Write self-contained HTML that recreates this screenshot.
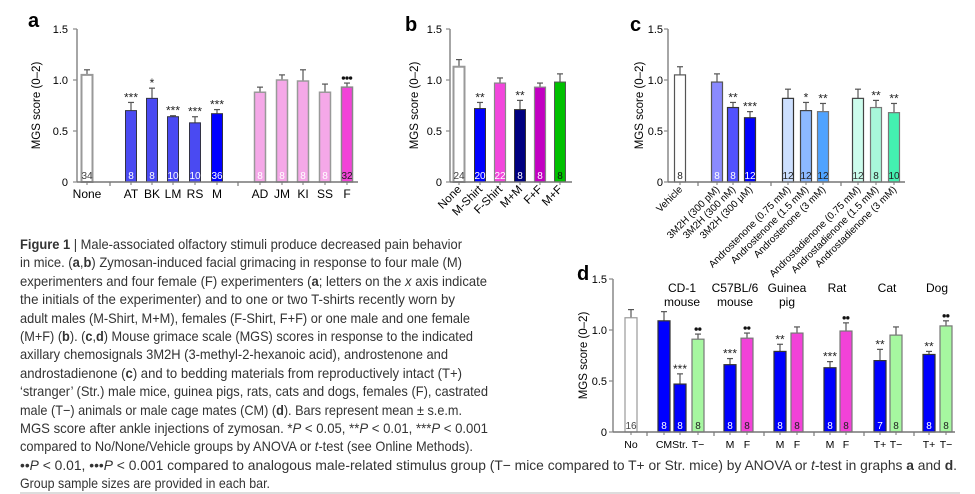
<!DOCTYPE html>
<html><head><meta charset="utf-8">
<style>
body{margin:0;background:#fff;width:975px;height:494px;overflow:hidden}
svg{position:absolute;left:0;top:0}
text{font-family:"Liberation Sans",sans-serif}
.cap{font-family:"Liberation Sans Narrow","Liberation Sans",sans-serif;font-size:14px;fill:#333}
</style></head>
<body>
<svg id="fig" width="975" height="494" viewBox="0 0 975 494">
<g class="cap">
<text x="20" y="249" textLength="442" lengthAdjust="spacingAndGlyphs"><tspan font-weight="bold">Figure 1</tspan> | Male-associated olfactory stimuli produce decreased pain behavior</text>
<text x="20" y="267" textLength="442" lengthAdjust="spacingAndGlyphs">in mice. (<tspan font-weight="bold">a</tspan>,<tspan font-weight="bold">b</tspan>) Zymosan-induced facial grimacing in response to four male (M)</text>
<text x="20" y="286" textLength="467" lengthAdjust="spacingAndGlyphs">experimenters and four female (F) experimenters (<tspan font-weight="bold">a</tspan>; letters on the <tspan font-style="italic">x</tspan> axis indicate</text>
<text x="20" y="304" textLength="435" lengthAdjust="spacingAndGlyphs">the initials of the experimenter) and to one or two T-shirts recently worn by</text>
<text x="20" y="323" textLength="450" lengthAdjust="spacingAndGlyphs">adult males (M-Shirt, M+M), females (F-Shirt, F+F) or one male and one female</text>
<text x="20" y="341" textLength="453" lengthAdjust="spacingAndGlyphs">(M+F) (<tspan font-weight="bold">b</tspan>). (<tspan font-weight="bold">c</tspan>,<tspan font-weight="bold">d</tspan>) Mouse grimace scale (MGS) scores in response to the indicated</text>
<text x="20" y="359" textLength="428" lengthAdjust="spacingAndGlyphs">axillary chemosignals 3M2H (3-methyl-2-hexanoic acid), androstenone and</text>
<text x="20" y="378" textLength="442" lengthAdjust="spacingAndGlyphs">androstadienone (<tspan font-weight="bold">c</tspan>) and to bedding materials from reproductively intact (T+)</text>
<text x="20" y="396" textLength="468" lengthAdjust="spacingAndGlyphs">‘stranger’ (Str.) male mice, guinea pigs, rats, cats and dogs, females (F), castrated</text>
<text x="20" y="415" textLength="442" lengthAdjust="spacingAndGlyphs">male (T−) animals or male cage mates (CM) (<tspan font-weight="bold">d</tspan>). Bars represent mean ± s.e.m.</text>
<text x="20" y="433" textLength="468" lengthAdjust="spacingAndGlyphs">MGS score after ankle injections of zymosan. *<tspan font-style="italic">P</tspan> &lt; 0.05, **<tspan font-style="italic">P</tspan> &lt; 0.01, ***<tspan font-style="italic">P</tspan> &lt; 0.001</text>
<text x="20" y="451" textLength="453" lengthAdjust="spacingAndGlyphs">compared to No/None/Vehicle groups by ANOVA or <tspan font-style="italic">t</tspan>-test (see Online Methods).</text>
<text x="20" y="470" textLength="937" lengthAdjust="spacingAndGlyphs">••<tspan font-style="italic">P</tspan> &lt; 0.01, •••<tspan font-style="italic">P</tspan> &lt; 0.001 compared to analogous male-related stimulus group (T− mice compared to T+ or Str. mice) by ANOVA or <tspan font-style="italic">t</tspan>-test in graphs <tspan font-weight="bold">a</tspan> and <tspan font-weight="bold">d</tspan>.</text>
<text x="20" y="488" textLength="250" lengthAdjust="spacingAndGlyphs">Group sample sizes are provided in each bar.</text>
</g>
<line x1="20" y1="493" x2="960" y2="493" stroke="#bbb" stroke-width="1"/>
</svg>
<script>
// ---- Panel a data ----
const aCats = ["None","AT","BK","LM","RS","M","AD","JM","KI","SS","F"];
const aVals = [1.05,0.70,0.82,0.64,0.58,0.67,0.88,1.00,0.99,0.88,0.93];
const aErr  = [0.05,0.08,0.10,0.01,0.06,0.04,0.05,0.05,0.11,0.08,0.04];
const aN    = ["34","8","8","10","10","36","8","8","8","8","32"];
const aSig  = ["","***","*","***","***","***","","","","","•••"];
// ---- Panel b data ----
const bCats = ["None","M-Shirt","F-Shirt","M+M","F+F","M+F"];
const bVals = [1.13,0.72,0.97,0.71,0.93,0.98];
const bErr  = [0.07,0.06,0.05,0.09,0.04,0.08];
const bN    = ["24","20","22","8","8","8"];
const bSig  = ["","**","","**","",""];
// ---- Panel c data ----
const cCats = ["Vehicle","3M2H (300 pM)","3M2H (300 nM)","3M2H (300 μM)","Androstenone (0.75 mM)","Androstenone (1.5 mM)","Androstenone (3 mM)","Androstadienone (0.75 mM)","Androstadienone (1.5 mM)","Androstadienone (3 mM)"];
const cVals = [1.05,0.98,0.73,0.63,0.82,0.70,0.69,0.82,0.73,0.68];
const cErr  = [0.08,0.08,0.05,0.06,0.09,0.08,0.08,0.09,0.07,0.09];
const cN    = ["8","8","8","12","12","12","12","12","8","10"];
const cSig  = ["","","**","***","","*","**","","**","**"];
// ---- Panel d data ----
const dCats = ["No","CM","Str.","T−","M","F","M","F","M","F","T+","T−","T+","T−"];
const dVals = [1.12,1.09,0.47,0.91,0.66,0.92,0.79,0.97,0.63,0.99,0.70,0.95,0.76,1.04];
const dErr  = [0.08,0.09,0.10,0.05,0.06,0.05,0.07,0.06,0.06,0.08,0.11,0.08,0.03,0.05];
const dN    = ["16","8","8","8","8","8","8","8","8","8","7","8","8","8"];
const dSig  = ["","","***","••","***","••","**","","***","••","**","","**","••"];
const dGroups = [["CD-1","mouse"],["C57BL/6","mouse"],["Guinea","pig"],["Rat"],["Cat"],["Dog"]];
const yTicks = [0,0.5,1.0,1.5];
const yTickLabels = ["0","0.5","1.0","1.5"];

const NS="http://www.w3.org/2000/svg";
const svg=document.getElementById('fig');
function mk(tag,attrs,parent){const e=document.createElementNS(NS,tag);for(const k in attrs)e.setAttribute(k,attrs[k]);(parent||svg).appendChild(e);return e;}

function panel(P,cats,vals,errs,ns,sigs){
  const g=mk('g',{});
  
  
  const y=v=>P.y0-v*P.k;
  const lt=mk('text',{x:P.letterX,y:P.letterY,'font-size':20,'font-weight':'bold',fill:'#000'},g);
  lt.textContent=P.letter;
  
  
  cats.forEach((c,i)=>{
    const cx=P.xs[i],w=P.bw,top=y(vals[i]),et=y(vals[i]+errs[i]);
    const eb=mk('line',{x1:cx,x2:cx,y1:top,y2:et,stroke:'#555','stroke-width':1.2},g);
    
    
    mk('line',{x1:cx-3,x2:cx+3,y1:et,y2:et,stroke:'#555','stroke-width':1.2},g);
    const r=mk('rect',{x:cx-w/2,y:top,width:w,height:P.y0-top,fill:P.colors[i],stroke:P.strokes[i],'stroke-width':P.sw[i]},g);
    
    
    const nt=mk('text',{x:cx,y:P.y0-3,'text-anchor':'middle','font-size':10,fill:P.nfill[i]},g);
    nt.textContent=ns[i];
    
    
    if(sigs[i]){
      if(sigs[i].includes('•')){
        const sg=mk('g',{},g);
        
        
        const n=sigs[i].length;
        for(let j=0;j<n;j++){
          mk('circle',{cx:cx+(j-(n-1)/2)*3.6,cy:et-5,r:1.7,fill:'#111'},sg);
        }
      } else {
        const st=mk('text',{x:cx,y:et-1,'text-anchor':'middle','font-size':12,fill:'#222'},g);
        st.textContent=sigs[i];
        
        
      }
    }
    let xt;
    if(P.rot){
      xt=mk('text',{x:cx+3,y:P.y0+8,'text-anchor':'end','font-size':P.xfs,fill:'#000',transform:`rotate(-45 ${cx+3} ${P.y0+8})`},g);
    } else {
      xt=mk('text',{x:cx,y:P.y0+16,'text-anchor':'middle','font-size':P.xfs,fill:'#000'},g);
    }
    xt.textContent=c;
    
    
    mk('line',{x1:cx,x2:cx,y1:P.y0,y2:P.y0+3,stroke:'#777','stroke-width':1},g);
  });
  P.seps.forEach(sx=>mk('line',{x1:sx,x2:sx,y1:P.y0,y2:P.y0+4,stroke:'#777','stroke-width':1.2},g));
  const ya=mk('line',{x1:P.ax,x2:P.ax,y1:y(1.5),y2:P.y0,stroke:'#888','stroke-width':1.5},g);
  
  
  const xa=mk('line',{x1:P.ax,x2:P.xend,y1:P.y0,y2:P.y0,stroke:'#777','stroke-width':1.5},g);
  
  
  yTicks.forEach((t,i)=>{
    mk('line',{x1:P.ax-4,x2:P.ax,y1:y(t),y2:y(t),stroke:'#888','stroke-width':1.2},g);
    const tl=mk('text',{x:P.ax-P.tg,y:y(t)+4,'text-anchor':'end','font-size':11,fill:'#000'},g);
    tl.textContent=yTickLabels[i];
    
    
  });
  const yl=mk('text',{x:P.ylx,y:y(0.75),'text-anchor':'middle','font-size':11.5,fill:'#000',transform:`rotate(-90 ${P.ylx} ${y(0.75)})`},g);
  yl.textContent='MGS score (0–2)';
  
  
  return g;
}
const W='#fff',BL='#0000ff',MB='#4a4af2',PK='#f5a8e8',HP='#f242d8',GR='#a6f7a0';
const rep=(v,n)=>Array(n).fill(v);
panel({name:'panel-a',letter:'a',letterX:28,letterY:27,y0:182,k:102,ax:77,xend:358,ylx:40,tg:9,bw:11,xfs:12,rot:false,
  xs:[87,131,152,173,195,217,260,282,303,325,347],seps:[110,238],
  colors:[W,MB,MB,MB,MB,BL,PK,PK,PK,PK,HP],
  strokes:['#999','#334','#334','#334','#334','#334','#999','#999','#999','#999','#888'],
  sw:[2,1,1,1,1,1,1.5,1.5,1.5,1.5,1.5],
  nfill:['#444','#fff','#fff','#fff','#fff','#fff','#fff','#fff','#fff','#fff','#222']},aCats,aVals,aErr,aN,aSig);
panel({name:'panel-b',letter:'b',letterX:405,letterY:31,y0:182,k:102,ax:450,xend:572,ylx:418,tg:8,bw:11,xfs:11.5,rot:true,
  xs:[459,480,500,520,540,560],seps:[],
  colors:[W,BL,'#f246dc','#000080','#c200c2','#00c000'],
  strokes:['#999','#333','#888','#333','#888','#555'],sw:[2,1,1.2,1,1.2,1],
  nfill:['#444','#fff','#fff','#fff','#fff','#111']},bCats,bVals,bErr,bN,bSig);
panel({name:'panel-c',letter:'c',letterX:630,letterY:31,y0:182,k:102,ax:668,xend:905,ylx:643,tg:5,bw:11,xfs:10,rot:true,
  xs:[680,717,733,750,788,806,823,858,876,894],seps:[698,771,841],
  colors:[W,'#8a8aff','#5252ff',BL,'#cde0ff','#8cb9ff','#4fa3ff','#ccfcec','#a8f7da','#44f0b0'],
  strokes:['#555','#555','#333','#333','#333','#444','#777','#444','#777','#777'],sw:rep(1.2,10),
  nfill:['#222','#fff','#fff','#fff','#222','#222','#222','#333','#222','#222']},cCats,cVals,cErr,cN,cSig);
panel({name:'panel-d',letter:'d',letterX:577,letterY:280,y0:432,k:102,ax:613,xend:955,ylx:587,tg:6,bw:12,xfs:10.5,rot:false,
  xs:[631,664,680,698,730,747,780,797,830,846,880,896,929,946],seps:[647,714,764,814,864,914],
  colors:[W,BL,BL,GR,BL,HP,BL,HP,BL,HP,BL,GR,BL,GR],
  strokes:['#999','#333','#333','#777','#333','#777','#333','#777','#333','#777','#333','#777','#333','#777'],sw:rep(1.2,14),
  nfill:['#444','#fff','#fff','#222','#fff','#222','#fff','#222','#fff','#222','#fff','#222','#fff','#222']},dCats,dVals,dErr,dN,dSig);
const gCenters=[682,735,787,837,887,937];
dGroups.forEach((lines,i)=>{
  lines.forEach((s,j)=>{
    const t=mk('text',{x:gCenters[i],y:292+j*14,'text-anchor':'middle','font-size':12,fill:'#000'});
    t.textContent=s;
    
    
  });
});
</script>
</body></html>
